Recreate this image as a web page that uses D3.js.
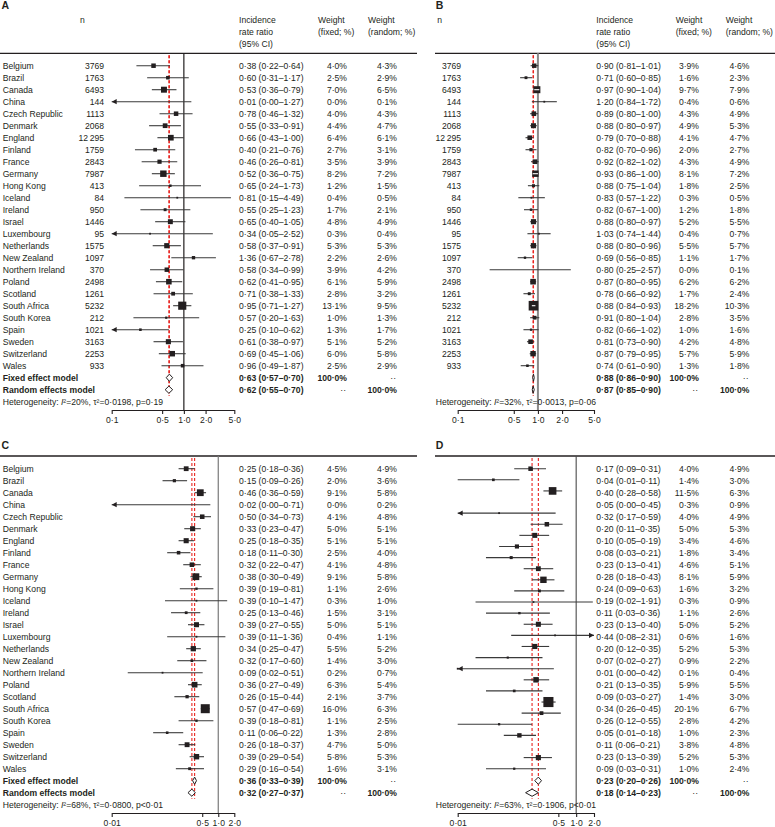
<!DOCTYPE html>
<html><head><meta charset="utf-8">
<script src="https://cdn.jsdelivr.net/npm/d3@7"></script>
<style>
body{margin:0;background:#fff}
svg{display:block}
text{font-family:"Liberation Sans",Arial,sans-serif;fill:#231f20}
</style>
</head><body>
<svg id="chart" width="775" height="827"></svg>
<script>
// ---------------- DATA ----------------
const countries = ["Belgium","Brazil","Canada","China","Czech Republic","Denmark","England","Finland","France","Germany","Hong Kong","Iceland","Ireland","Israel","Luxembourg","Netherlands","New Zealand","Northern Ireland","Poland","Scotland","South Africa","South Korea","Spain","Sweden","Switzerland","Wales"];
const nValues = [3769,1763,6493,144,1113,2068,12295,1759,2843,7987,413,84,950,1446,95,1575,1097,370,2498,1261,5232,212,1021,3163,2253,933];

// Panel A
const estA = [0.38,0.60,0.53,0.01,0.78,0.55,0.66,0.40,0.46,0.52,0.65,0.81,0.55,0.65,0.34,0.58,1.36,0.58,0.62,0.71,0.95,0.57,0.25,0.61,0.69,0.96];
const loA  = [0.22,0.31,0.36,0.00,0.46,0.33,0.43,0.21,0.26,0.36,0.24,0.15,0.25,0.40,0.05,0.37,0.67,0.34,0.41,0.38,0.71,0.20,0.099,0.38,0.45,0.49];
const hiA  = [0.64,1.17,0.79,1.27,1.32,0.91,1.00,0.76,0.81,0.75,1.73,4.49,1.23,1.05,2.52,0.91,2.78,0.99,0.95,1.33,1.27,1.63,0.62,0.97,1.06,1.87];
const wFixedA  = [4.0,2.5,7.0,0.0,4.0,4.4,6.4,2.7,3.5,8.2,1.2,0.4,1.7,4.8,0.3,5.3,2.2,3.9,6.1,2.8,13.1,1.0,1.3,5.1,6.0,2.5];
const wRandomA = [4.3,2.9,6.5,0.1,4.3,4.7,6.1,3.1,3.9,7.2,1.5,0.5,2.1,4.9,0.4,5.3,2.6,4.2,5.9,3.2,9.5,1.3,1.7,5.2,5.8,2.9];
const fixedA  = [0.63,0.57,0.70];
const randomA = [0.62,0.55,0.70];
const hetA = ["20%","0·0198","p=0·19"];

// Panel B
const estB = [0.90,0.71,0.97,1.20,0.89,0.88,0.79,0.82,0.92,0.93,0.88,0.83,0.82,0.88,1.03,0.88,0.69,0.80,0.87,0.78,0.88,0.91,0.82,0.81,0.87,0.74];
const loB  = [0.81,0.60,0.90,0.84,0.80,0.80,0.70,0.70,0.82,0.86,0.75,0.57,0.67,0.80,0.74,0.80,0.56,0.25,0.80,0.66,0.84,0.80,0.66,0.73,0.79,0.61];
const hiB  = [1.01,0.85,1.04,1.72,1.00,0.97,0.88,0.96,1.02,1.00,1.04,1.22,1.00,0.97,1.44,0.96,0.85,2.57,0.95,0.92,0.93,1.04,1.02,0.90,0.95,0.90];
const wFixedB  = [3.9,1.6,9.7,0.4,4.3,4.9,4.1,2.0,4.3,8.1,1.8,0.3,1.2,5.2,0.4,5.5,1.1,0.0,6.2,1.7,18.2,2.8,1.0,4.2,5.7,1.3];
const wRandomB = [4.6,2.3,7.9,0.6,4.9,5.3,4.7,2.7,4.9,7.2,2.5,0.5,1.8,5.5,0.7,5.7,1.7,0.1,6.2,2.4,10.3,3.5,1.6,4.8,5.9,1.8];
const fixedB  = [0.88,0.86,0.90];
const randomB = [0.87,0.85,0.90];
const hetB = ["32%","0·0013","p=0·06"];

// Panel C
const estC = [0.25,0.15,0.46,0.02,0.50,0.33,0.25,0.18,0.32,0.38,0.39,0.39,0.25,0.39,0.39,0.34,0.32,0.09,0.36,0.26,0.57,0.39,0.11,0.26,0.39,0.29];
const loC  = [0.18,0.09,0.36,0.00,0.34,0.23,0.18,0.11,0.22,0.30,0.19,0.10,0.13,0.27,0.11,0.25,0.17,0.02,0.27,0.15,0.47,0.18,0.06,0.18,0.29,0.16];
const hiC  = [0.36,0.26,0.59,0.71,0.73,0.47,0.35,0.30,0.47,0.49,0.81,1.47,0.46,0.55,1.36,0.47,0.60,0.51,0.49,0.44,0.69,0.81,0.22,0.37,0.54,0.54];
const wFixedC  = [4.5,2.0,9.1,0.0,4.1,5.0,5.1,2.5,4.1,9.1,1.1,0.3,1.5,5.0,0.4,5.5,1.4,0.2,6.3,2.1,16.0,1.1,1.3,4.7,5.8,1.6];
const wRandomC = [4.9,3.6,5.8,0.2,4.8,5.1,5.1,4.0,4.8,5.8,2.6,1.0,3.1,5.1,1.1,5.2,3.0,0.7,5.4,3.7,6.3,2.5,2.8,5.0,5.3,3.1];
const fixedC  = [0.36,0.33,0.39];
const randomC = [0.32,0.27,0.37];
const hetC = ["68%","0·0800","p<0·01"];

// Panel D
const estD = [0.17,0.04,0.40,0.05,0.32,0.20,0.10,0.08,0.23,0.28,0.24,0.19,0.11,0.23,0.44,0.20,0.07,0.01,0.21,0.09,0.34,0.26,0.05,0.11,0.23,0.09];
const loD  = [0.09,0.01,0.28,0.00,0.17,0.11,0.05,0.03,0.13,0.18,0.09,0.02,0.03,0.13,0.08,0.12,0.02,0.00,0.13,0.03,0.26,0.12,0.01,0.06,0.13,0.03];
const hiD  = [0.31,0.11,0.58,0.45,0.59,0.35,0.19,0.21,0.41,0.43,0.63,1.91,0.36,0.40,2.31,0.35,0.27,0.42,0.35,0.27,0.45,0.55,0.18,0.21,0.39,0.31];
const wFixedD  = [4.0,1.4,11.5,0.3,4.0,5.0,3.4,1.8,4.6,8.1,1.6,0.3,1.1,5.0,0.6,5.2,0.9,0.1,5.9,1.4,20.1,2.8,1.0,3.8,5.2,1.0];
const wRandomD = [4.9,3.0,6.3,0.9,4.9,5.3,4.6,3.4,5.1,5.9,3.2,0.9,2.6,5.2,1.6,5.3,2.2,0.4,5.5,3.0,6.7,4.2,2.3,4.8,5.3,2.4];
const fixedD  = [0.23,0.20,0.26];
const randomD = [0.18,0.14,0.23];
const hetD = ["63%","0·1906","p<0·01"];
// In panel D the plotted markers sit on their own row sequence (two empty slots)
const markerRowsD = ["Belgium","Brazil","Canada","(empty 1)","China","Czech Republic","Denmark","England","Finland","France","Germany","Hong Kong","Iceland","Ireland","Israel","Luxembourg","Netherlands","New Zealand","Northern Ireland","Poland","Scotland","South Africa","South Korea","Spain","Sweden","(empty 2)","Switzerland","Wales"];

const ticksAB = [0.1,0.5,1,2,5];
const ticksCD = [0.01,0.5,1,2];
const headerIRR = ["Incidence","rate ratio","(95% CI)"];
const headerWF = ["Weight","(fixed; %)"];
const headerWR = ["Weight","(random; %)"];

// ---------------- DRAWING ----------------
const svg = d3.select("#chart");
const FS = 8.6, STEP = 12, INK = "#231f20";
const dot = s => s.replace(".", "\u00b7");
const f2 = v => dot(d3.format(".2f")(v));
const f1 = v => dot(d3.format(".1f")(v)) + "%";
const fTick = v => v < 0.1 ? dot(String(v)) : dot(d3.format(".1f")(v));
const fN = v => v >= 10000 ? String(Math.floor(v/1000)) + "\u2009" + String(v % 1000).padStart(3,"0") : String(v);
const ci = (e,l,h) => `${f2(e)} (${f2(l)}\u2013${f2(h)})`;

function txt(g, x, y, s, anchor, bold) {
  return g.append("text").attr("x", x).attr("y", y).attr("dy", "0.35em")
    .attr("font-size", FS).attr("text-anchor", anchor || "start")
    .attr("font-weight", bold ? "bold" : null).text(s);
}

function drawPanel(p) {
  const g = svg.append("g");
  const rowY = i => p.rowTop + i * STEP;
  const nR = countries.length;

  g.append("text").attr("x", p.letterX).attr("y", p.letterY).attr("dy", "0.35em")
    .attr("font-size", 10.5).attr("font-weight", "bold").text(p.letter);

  if (p.header) {
    const hy = [p.ruleY - 33.3, p.ruleY - 21, p.ruleY - 9.6];
    txt(g, p.hdrN, hy[0], "n");
    headerIRR.forEach((s, i) => txt(g, p.irrX, hy[i], s));
    headerWF.forEach((s, i) => txt(g, p.hdrWF, hy[i], s));
    headerWR.forEach((s, i) => txt(g, p.hdrWR, hy[i], s));
  }
  g.append("line").attr("x1", p.ruleX[0]).attr("x2", p.ruleX[1])
    .attr("y1", p.ruleY).attr("y2", p.ruleY).attr("stroke", INK).attr("stroke-width", 1.3);

  const x = d3.scaleLog().domain(p.domain).range(p.axisRange);
  const [dMin, dMax] = p.domain;
  const yText = d3.scalePoint().domain(countries).range([rowY(0), rowY(nR - 1)]);
  const yMark = p.markerRows
    ? d3.scalePoint().domain(p.markerRows).range([rowY(0), rowY(nR - 1)])
    : yText;
  const axisY = p.rowTop + 28 * STEP + 8.3;

  // reference line at 1
  g.append("line").attr("x1", x(1)).attr("x2", x(1)).attr("y1", p.ruleY).attr("y2", axisY)
    .attr("stroke", p.refColor).attr("stroke-width", p.refWidth);

  // pooled estimate dashed lines
  [p.fixed[0], p.random[0]].forEach(v => {
    g.append("line").attr("x1", x(v)).attr("x2", x(v))
      .attr("y1", p.ruleY + 2).attr("y2", rowY(27) + 6)
      .attr("stroke", "#e8231f").attr("stroke-width", 1.1).attr("stroke-dasharray", "3,2");
  });

  // study rows
  countries.forEach((c, i) => {
    const y = yMark(c);
    const lo = p.lo[i], hi = p.hi[i], e = p.est[i];
    const x0 = x(Math.max(lo, dMin)), x1 = x(Math.min(hi, dMax));
    g.append("line").attr("x1", x0).attr("x2", x1).attr("y1", y).attr("y2", y)
      .attr("stroke", "#3a3a3a").attr("stroke-width", 1.1);
    if (lo < dMin) {
      g.append("path").attr("d", `M${x0},${y}l5,-2.6l0,5.2z`).attr("fill", INK);
    }
    if (hi > dMax) {
      g.append("path").attr("d", `M${x1},${y}l-5,-2.6l0,5.2z`).attr("fill", INK);
    }
    if (e >= dMin && e <= dMax) {
      const w = p.wf[i];
      const s = w > 0 ? Math.max(1.8, 2.25 * Math.sqrt(w)) : 0;
      if (s > 0) {
        const cx = x(e);
        g.append("rect").attr("x", cx - s / 2).attr("y", y - s / 2)
          .attr("width", s).attr("height", s).attr("fill", INK);
        if (x1 - x0 < s - 1) {
          g.append("line").attr("x1", x0).attr("x2", x1).attr("y1", y).attr("y2", y)
            .attr("stroke", "#fff").attr("stroke-width", 1.1);
        }
      }
    }
  });

  // diamonds
  [[p.fixed, 26], [p.random, 27]].forEach(([v, r]) => {
    const y = rowY(r), h = 3.6;
    g.append("path")
      .attr("d", `M${x(v[1])},${y}L${x(v[0])},${y - h}L${x(v[2])},${y}L${x(v[0])},${y + h}Z`)
      .attr("fill", "#fff").attr("stroke", INK).attr("stroke-width", 1);
  });

  // text columns
  countries.forEach((c, i) => {
    const y = yText(c);
    if (p.namesX != null) txt(g, p.namesX, y, c);
    if (p.nRight != null) txt(g, p.nRight, y, fN(nValues[i]), "end");
    txt(g, p.irrX, y, ci(p.est[i], p.lo[i], p.hi[i]));
    txt(g, p.wfRight, y, f1(p.wf[i]), "end");
    txt(g, p.wrRight, y, f1(p.wr[i]), "end");
  });
  if (p.namesX != null) {
    txt(g, p.namesX, rowY(26), "Fixed effect model", "start", true);
    txt(g, p.namesX, rowY(27), "Random effects model", "start", true);
  }
  txt(g, p.irrX, rowY(26), ci(...p.fixed), "start", true);
  txt(g, p.irrX, rowY(27), ci(...p.random), "start", true);
  txt(g, p.wfRight, rowY(26), "100\u00b70%", "end", true);
  txt(g, p.wrRight - 1, rowY(26), "\u00b7\u00b7", "end");
  txt(g, p.wfRight - 1, rowY(27), "\u00b7\u00b7", "end");
  txt(g, p.wrRight, rowY(27), "100\u00b70%", "end", true);

  // heterogeneity
  const ht = txt(g, p.hetX, rowY(28), null);
  ht.append("tspan").text("Heterogeneity: ");
  ht.append("tspan").attr("font-style", "italic").text("I");
  ht.append("tspan").text(`\u00b2=${p.het[0]}, \u03c4\u00b2=${p.het[1]}, ${p.het[2]}`);

  // axis
  const ax = g.append("g").attr("transform", `translate(0,${axisY})`)
    .call(d3.axisBottom(x).tickValues(p.ticks).tickFormat(fTick).tickSize(4).tickSizeOuter(0));
  ax.attr("font-family", null).attr("font-size", null);
  ax.select(".domain").attr("stroke", INK).attr("stroke-width", 1.1);
  ax.selectAll(".tick line").attr("stroke", INK).attr("stroke-width", 1.1);
  ax.selectAll(".tick text").attr("font-size", FS).attr("fill", INK);
}

const leftCols  = {namesX: 2.7, irrX: 239, wfRight: 347, wrRight: 397, axisRange: [111.7, 234.3], ruleX: [0, 417], hetX: 2.7, letterX: 1.5, hdrN: 80, hdrWF: 318, hdrWR: 368};
const rightCols = {namesX: null, irrX: 596.3, wfRight: 699, wrRight: 749.5, axisRange: [457.7, 594], ruleX: [435, 775], hetX: 435.7, letterX: 435.7, hdrN: 437.3, hdrWF: 675.7, hdrWR: 725.7};

drawPanel(Object.assign({}, leftCols, {letter: "A", letterY: 5.5, header: true, ruleY: 53.3, rowTop: 65.7,
  nRight: 104, domain: [0.1, 5], ticks: ticksAB, est: estA, lo: loA, hi: hiA, wf: wFixedA, wr: wRandomA,
  fixed: fixedA, random: randomA, het: hetA, refColor: "#231f20", refWidth: 1.2}));
drawPanel(Object.assign({}, rightCols, {letter: "B", letterY: 5.5, header: true, ruleY: 53.3, rowTop: 65.7,
  nRight: 461, domain: [0.1, 5], ticks: ticksAB, est: estB, lo: loB, hi: hiB, wf: wFixedB, wr: wRandomB,
  fixed: fixedB, random: randomB, het: hetB, refColor: "#8a8a8a", refWidth: 2}));
drawPanel(Object.assign({}, leftCols, {letter: "C", letterY: 445, header: false, ruleY: 456, rowTop: 468.7,
  nRight: null, domain: [0.01, 2], ticks: ticksCD, est: estC, lo: loC, hi: hiC, wf: wFixedC, wr: wRandomC,
  fixed: fixedC, random: randomC, het: hetC, refColor: "#7a7a7a", refWidth: 1.2}));
drawPanel(Object.assign({}, rightCols, {letter: "D", letterY: 445, header: false, ruleY: 456, rowTop: 468.7,
  nRight: null, domain: [0.01, 2], ticks: ticksCD, est: estD, lo: loD, hi: hiD, wf: wFixedD, wr: wRandomD,
  fixed: fixedD, random: randomD, het: hetD, refColor: "#4a4a4a", refWidth: 1.1, markerRows: markerRowsD}));
</script>
</body></html>
